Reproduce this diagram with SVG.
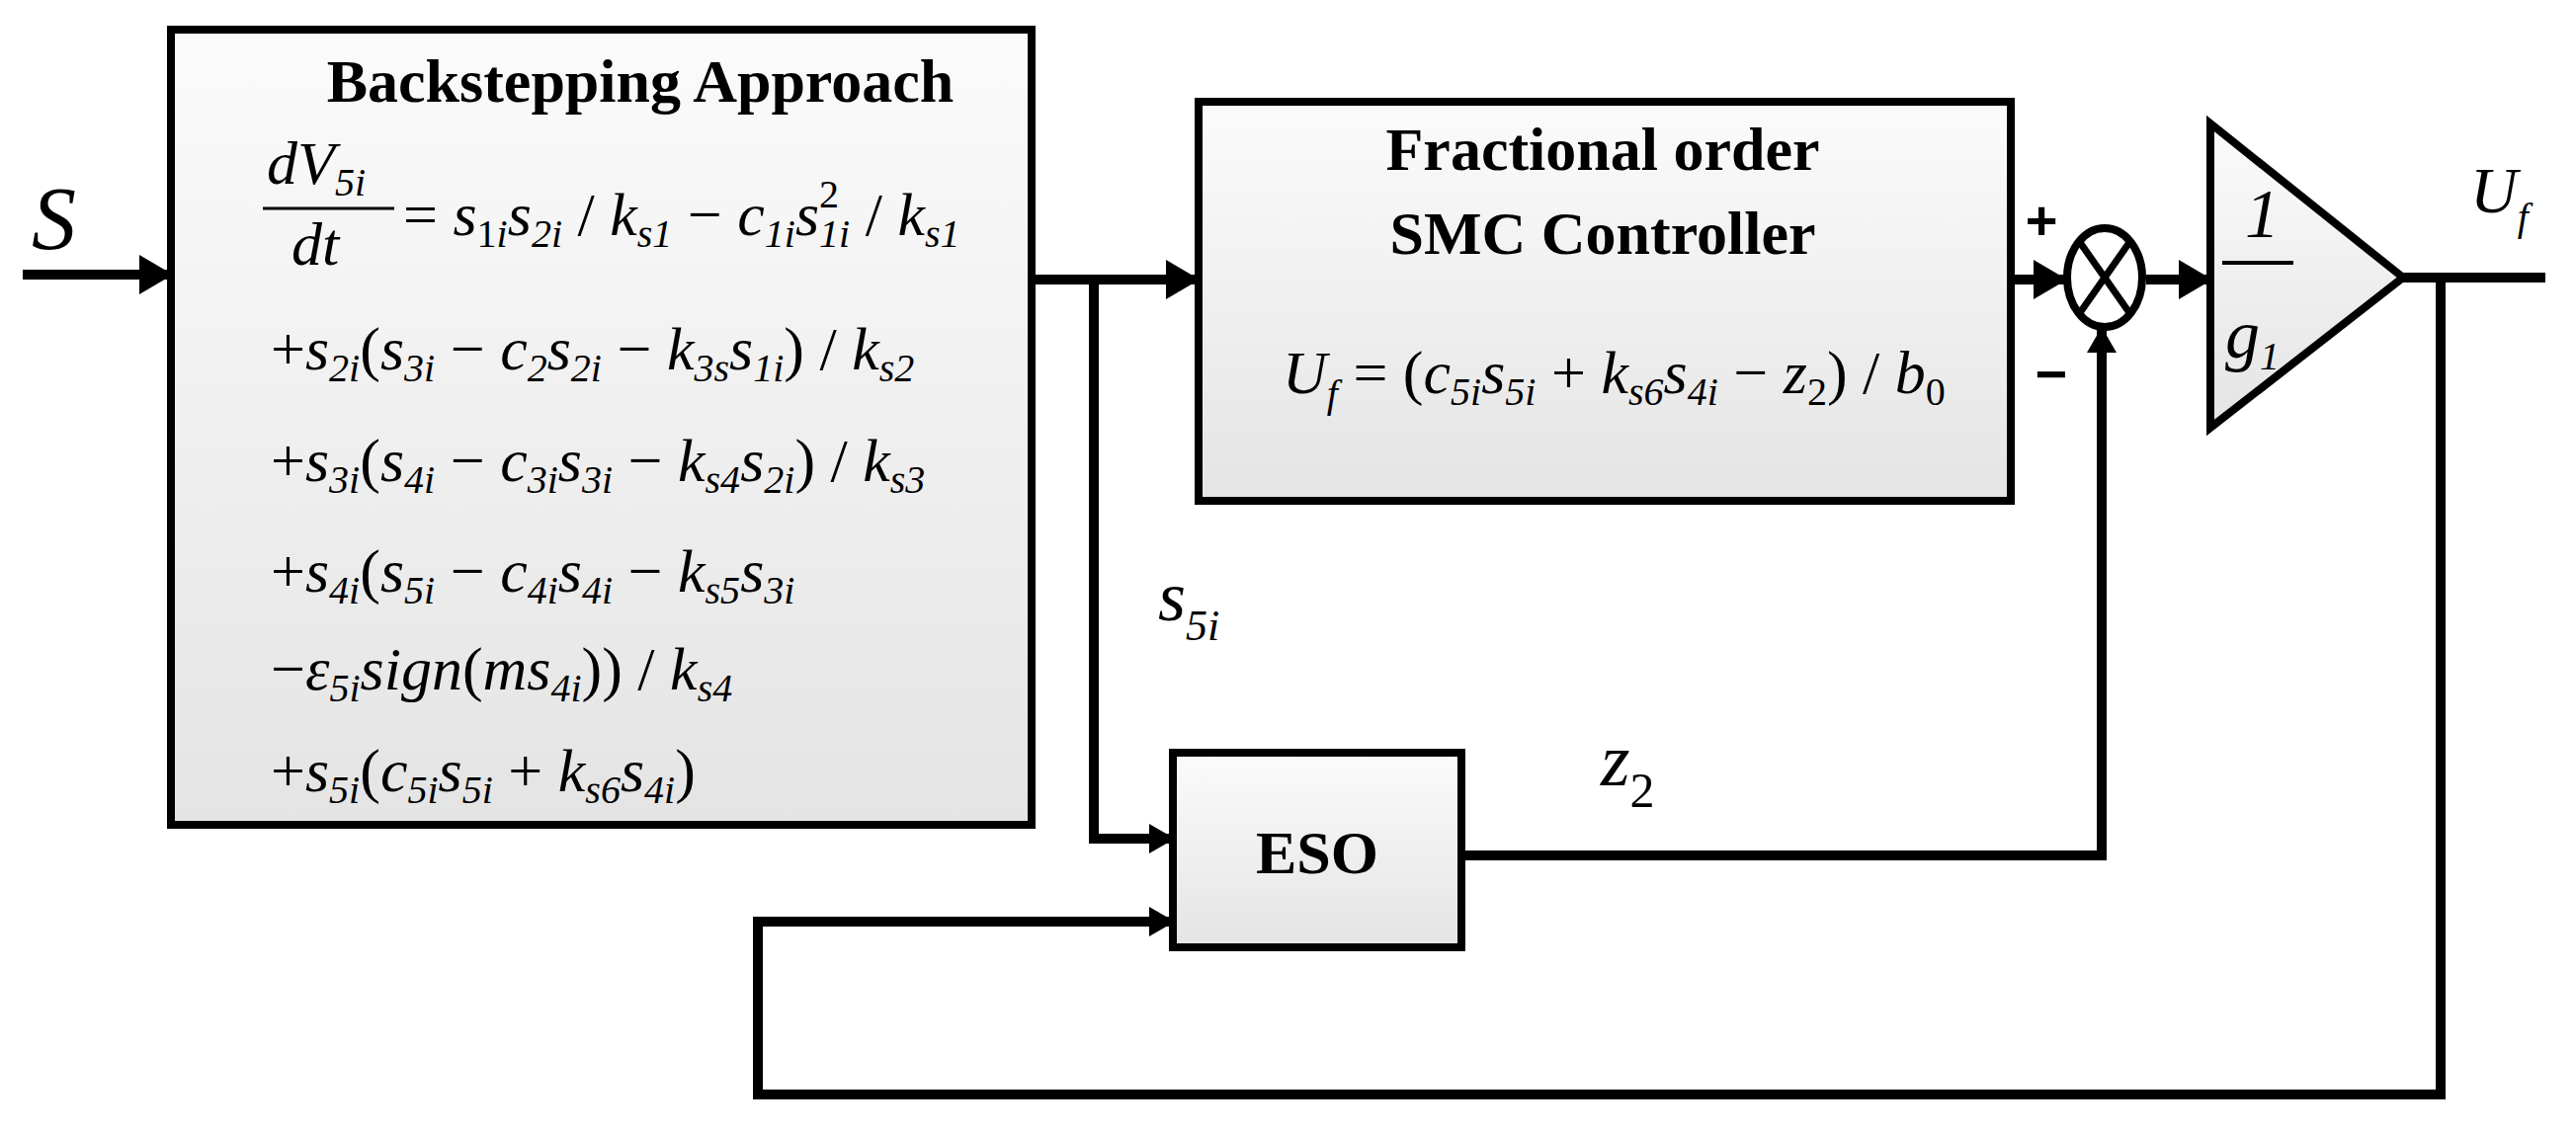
<svg xmlns="http://www.w3.org/2000/svg" width="2607" height="1147" viewBox="0 0 2607 1147">
<defs>
<linearGradient id="g" x1="0" y1="0" x2="0" y2="1"><stop offset="0" stop-color="#fbfbfb"/><stop offset="1" stop-color="#e4e4e4"/></linearGradient>
<marker id="ah" markerUnits="userSpaceOnUse" markerWidth="34" markerHeight="40" refX="32" refY="20" orient="auto"><path d="M0,0 L34,20 L0,40 Z" fill="#000"/></marker>
<marker id="as" markerUnits="userSpaceOnUse" markerWidth="26" markerHeight="30" refX="24" refY="15" orient="auto"><path d="M0,0 L26,15 L0,30 Z" fill="#000"/></marker>
</defs>
<style>
.box{fill:url(#g);stroke:#000;stroke-width:8}
.w{fill:none;stroke:#000;stroke-width:10;stroke-linejoin:miter}
.t{font-family:"Liberation Serif","DejaVu Serif",serif;font-weight:bold;font-size:62px;text-anchor:middle}
.m{font-family:"Liberation Serif","DejaVu Serif",serif;font-style:italic;font-size:62px}
.u{font-style:normal}
.s{font-size:40px}
</style>
<g id="connectors">
<path class="w" d="M23,278 H173" marker-end="url(#ah)"/>
<path class="w" d="M1044,283 H1212" marker-end="url(#ah)"/>
<path class="w" d="M1107,283 V849 H1187" marker-end="url(#as)"/>
<path class="w" d="M2035,283 H2090" marker-end="url(#ah)"/>
<path class="w" d="M1479,866 H2127 V333" marker-end="url(#as)"/>
<path class="w" d="M2172,283 H2237" marker-end="url(#ah)"/>
<path class="w" d="M2432,281 H2576"/>
<path class="w" d="M2470,281 V1108 H767 V933 H1187" marker-end="url(#as)"/>
</g>
<g id="input-label"><text class="m" x="32" y="252" style="font-size:90px">S</text></g>
<g id="backstepping">
<rect class="box" x="173" y="30" width="871" height="805"/>
<text class="t" x="648" y="103">Backstepping Approach</text>
<text class="m" x="270" y="186">dV<tspan class="s" dy="12">5i</tspan></text>
<line x1="266" y1="211" x2="399" y2="211" stroke="#000" stroke-width="3"/>
<text class="m" x="295" y="268">dt</text>
<text class="m" x="408" y="238"><tspan class="u">=</tspan> s<tspan class="s u" dy="12">1</tspan><tspan class="s">i</tspan><tspan dy="-12">s</tspan><tspan class="s" dy="12">2i</tspan><tspan dy="-12" class="u"> / </tspan>k<tspan class="s" dy="12">s1</tspan><tspan dy="-12" class="u"> − </tspan>c<tspan class="s" dy="12">1i</tspan><tspan dy="-12">s</tspan><tspan class="s u" dy="-28">2</tspan><tspan class="s" dx="-20" dy="40">1i</tspan><tspan dy="-12" class="u"> / </tspan>k<tspan class="s" dy="12">s1</tspan></text>
<text class="m" x="274" y="374"><tspan class="u">+</tspan>s<tspan class="s" dy="12">2i</tspan><tspan dy="-12" class="u">(</tspan>s<tspan class="s" dy="12">3i</tspan><tspan dy="-12" class="u"> − </tspan>c<tspan class="s" dy="12">2</tspan><tspan dy="-12">s</tspan><tspan class="s" dy="12">2i</tspan><tspan dy="-12" class="u"> − </tspan>k<tspan class="s" dy="12">3s</tspan><tspan dy="-12">s</tspan><tspan class="s" dy="12">1i</tspan><tspan dy="-12" class="u">) / </tspan>k<tspan class="s" dy="12">s2</tspan></text>
<text class="m" x="274" y="487"><tspan class="u">+</tspan>s<tspan class="s" dy="12">3i</tspan><tspan dy="-12" class="u">(</tspan>s<tspan class="s" dy="12">4i</tspan><tspan dy="-12" class="u"> − </tspan>c<tspan class="s" dy="12">3i</tspan><tspan dy="-12">s</tspan><tspan class="s" dy="12">3i</tspan><tspan dy="-12" class="u"> − </tspan>k<tspan class="s" dy="12">s4</tspan><tspan dy="-12">s</tspan><tspan class="s" dy="12">2i</tspan><tspan dy="-12" class="u">) / </tspan>k<tspan class="s" dy="12">s3</tspan></text>
<text class="m" x="274" y="599"><tspan class="u">+</tspan>s<tspan class="s" dy="12">4i</tspan><tspan dy="-12" class="u">(</tspan>s<tspan class="s" dy="12">5i</tspan><tspan dy="-12" class="u"> − </tspan>c<tspan class="s" dy="12">4i</tspan><tspan dy="-12">s</tspan><tspan class="s" dy="12">4i</tspan><tspan dy="-12" class="u"> − </tspan>k<tspan class="s" dy="12">s5</tspan><tspan dy="-12">s</tspan><tspan class="s" dy="12">3i</tspan></text>
<text class="m" x="274" y="698"><tspan class="u">−</tspan>ε<tspan class="s" dy="12">5i</tspan><tspan dy="-12">sign</tspan><tspan class="u">(</tspan>ms<tspan class="s" dy="12">4i</tspan><tspan dy="-12" class="u">)) / </tspan>k<tspan class="s" dy="12">s4</tspan></text>
<text class="m" x="274" y="801"><tspan class="u">+</tspan>s<tspan class="s" dy="12">5i</tspan><tspan dy="-12" class="u">(</tspan>c<tspan class="s" dy="12">5i</tspan><tspan dy="-12">s</tspan><tspan class="s" dy="12">5i</tspan><tspan dy="-12" class="u"> + </tspan>k<tspan class="s" dy="12">s6</tspan><tspan dy="-12">s</tspan><tspan class="s" dy="12">4i</tspan><tspan dy="-12" class="u">)</tspan></text>
</g>
<g id="fo-smc">
<rect class="box" x="1213" y="103" width="822" height="404"/>
<text class="t" x="1622" y="172">Fractional order</text>
<text class="t" x="1622" y="257">SMC Controller</text>
<text class="m" x="1298" y="398">U<tspan class="s" dy="14">f</tspan><tspan dy="-14" class="u"> = (</tspan>c<tspan class="s" dy="12">5i</tspan><tspan dy="-12">s</tspan><tspan class="s" dy="12">5i</tspan><tspan dy="-12" class="u"> + </tspan>k<tspan class="s" dy="12">s6</tspan><tspan dy="-12">s</tspan><tspan class="s" dy="12">4i</tspan><tspan dy="-12" class="u"> − </tspan>z<tspan class="s u" dy="12">2</tspan><tspan dy="-12" class="u">) / </tspan>b<tspan class="s u" dy="12">0</tspan></text>
</g>
<g id="sum">
<ellipse cx="2130" cy="281" rx="38" ry="50" fill="#fff" stroke="#000" stroke-width="8"/>
<line x1="2104" y1="244" x2="2156" y2="318" stroke="#000" stroke-width="7"/>
<line x1="2156" y1="244" x2="2104" y2="318" stroke="#000" stroke-width="7"/>
<text x="2066" y="242" font-family="Liberation Sans,sans-serif" font-weight="bold" font-size="56" text-anchor="middle">+</text>
<text x="2076" y="398" font-family="Liberation Sans,sans-serif" font-weight="bold" font-size="56" text-anchor="middle">−</text>
</g>
<g id="gain">
<polygon points="2237,125 2237,433 2432,281" fill="url(#g)" stroke="#000" stroke-width="8" stroke-linejoin="miter"/>
<text class="m" x="2272" y="240" style="font-size:70px">1</text>
<line x1="2249" y1="266" x2="2321" y2="266" stroke="#000" stroke-width="4"/>
<text class="m" x="2252" y="362" style="font-size:70px">g<tspan class="s" dy="12">1</tspan></text>
</g>
<g id="output-label"><text class="m" x="2500" y="215" style="font-size:66px">U<tspan class="s" dy="18">f</tspan></text></g>
<g id="eso">
<rect class="box" x="1187" y="762" width="292" height="197"/>
<text class="t" x="1333" y="884">ESO</text>
</g>
<g id="labels">
<text class="m" x="1172" y="628" style="font-size:72px">s<tspan dy="20" style="font-size:44px">5i</tspan></text>
<text class="m" x="1620" y="795" style="font-size:76px">z<tspan dy="22" class="u" style="font-size:50px">2</tspan></text>
</g>
</svg>
